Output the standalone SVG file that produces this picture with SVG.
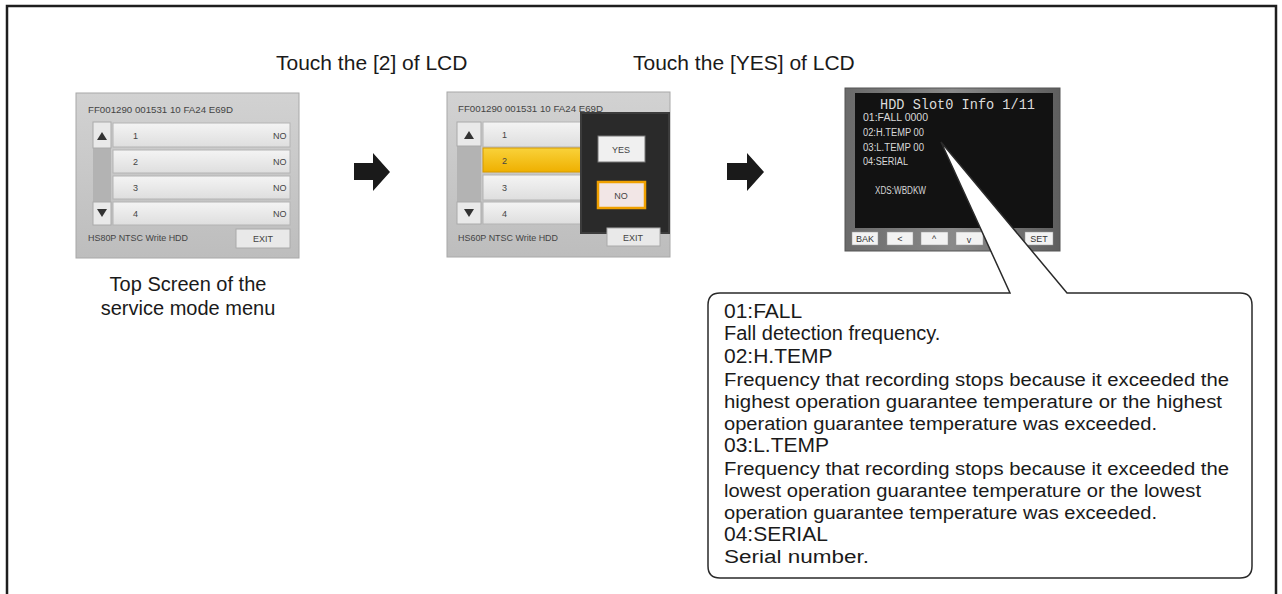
<svg xmlns="http://www.w3.org/2000/svg" width="1282" height="594" viewBox="0 0 1282 594">
<defs>
<linearGradient id="panelG" x1="0" y1="0" x2="0" y2="1"><stop offset="0" stop-color="#d2d2d2"/><stop offset="1" stop-color="#bdbdbd"/></linearGradient>
<linearGradient id="rowG" x1="0" y1="0" x2="0" y2="1"><stop offset="0" stop-color="#f4f4f4"/><stop offset="1" stop-color="#dedede"/></linearGradient>
<linearGradient id="yelG" x1="0" y1="0" x2="0" y2="1"><stop offset="0" stop-color="#f9d23a"/><stop offset="1" stop-color="#efb000"/></linearGradient>
<linearGradient id="bezG" x1="0" y1="0" x2="1" y2="0"><stop offset="0" stop-color="#6a6a6a"/><stop offset="0.5" stop-color="#8a8a8a"/><stop offset="1" stop-color="#5e5e5e"/></linearGradient>
</defs>
<style>
.lbl{font-family:"Liberation Sans",Arial,sans-serif;fill:#1a1a1a}
.top{font-size:21px}
.cap{font-size:20px}
.hd{font-size:21px}
.sm{font-family:"Liberation Sans",Arial,sans-serif;font-size:9px;fill:#444}
.row{fill:url(#rowG);stroke:#b4b4b4;stroke-width:1}
.btn{fill:#e9e9e9;stroke:#aaa;stroke-width:1}
.lcd{font-family:"Liberation Sans",Arial,sans-serif;font-size:10px;fill:#d8d8d8}
.lbtn{fill:#f2f2f2;stroke:#999;stroke-width:0.5}
.lbt{font-family:"Liberation Sans",Arial,sans-serif;font-size:9px;fill:#333;text-anchor:middle}
.arrow{fill:#1a1a1a}
</style>
<rect width="1282" height="594" fill="#ffffff"/>
<path id="frame" d="M7,594 L7,6 L1276,6 L1276,594" fill="none" stroke="#1e1e1e" stroke-width="2.5"/>

<g id="title1"><text class="lbl top" x="276" y="70">Touch the [2] of LCD</text></g>
<g id="title2"><text class="lbl top" x="633" y="70">Touch the [YES] of LCD</text></g>

<g id="screen1">
<rect x="76" y="93" width="223" height="165" fill="url(#panelG)" stroke="#a8a8a8"/>
<text class="sm" x="88" y="113" textLength="145" lengthAdjust="spacingAndGlyphs">FF001290 001531 10 FA24 E69D</text>
<rect x="93" y="122" width="18" height="103" fill="#b3b3b3"/>
<rect x="93" y="122" width="18" height="26" class="btn"/>
<polygon points="97,140 107,140 102,132" fill="#333"/>
<rect x="93" y="202" width="18" height="23" class="btn"/>
<polygon points="97,209 107,209 102,217" fill="#333"/>
<rect x="113" y="123" width="177" height="24" class="row"/>
<rect x="113" y="150" width="177" height="23" class="row"/>
<rect x="113" y="176" width="177" height="23" class="row"/>
<rect x="113" y="202" width="177" height="23" class="row"/>
<text class="sm" x="133" y="139">1</text><text class="sm" x="273" y="139">NO</text>
<text class="sm" x="133" y="165">2</text><text class="sm" x="273" y="165">NO</text>
<text class="sm" x="133" y="191">3</text><text class="sm" x="273" y="191">NO</text>
<text class="sm" x="133" y="217">4</text><text class="sm" x="273" y="217">NO</text>
<text class="sm" x="88" y="241" textLength="100" lengthAdjust="spacingAndGlyphs">HS80P NTSC Write HDD</text>
<rect x="236" y="229" width="54" height="19" class="btn"/>
<text class="sm" x="263" y="242" text-anchor="middle">EXIT</text>
</g>
<g id="caption1">
<text class="lbl cap" x="188" y="291" text-anchor="middle">Top Screen of the</text>
<text class="lbl cap" x="188" y="315" text-anchor="middle">service mode menu</text>
</g>

<g id="screen2">
<rect x="447" y="92" width="223" height="165" fill="url(#panelG)" stroke="#a8a8a8"/>
<text class="sm" x="458" y="112" textLength="145" lengthAdjust="spacingAndGlyphs">FF001290 001531 10 FA24 E69D</text>
<rect x="457" y="122" width="24" height="102" fill="#b3b3b3"/>
<rect x="457" y="122" width="24" height="24" class="btn"/>
<polygon points="464,139 474,139 469,131" fill="#333"/>
<rect x="457" y="202" width="24" height="22" class="btn"/>
<polygon points="464,209 474,209 469,217" fill="#333"/>
<rect x="483" y="122" width="180" height="25" class="row"/>
<rect x="483" y="148" width="180" height="24" fill="url(#yelG)" stroke="#d69a00"/>
<rect x="483" y="175" width="180" height="25" class="row"/>
<rect x="483" y="202" width="180" height="22" class="row"/>
<text class="sm" x="502" y="138">1</text>
<text class="sm" x="502" y="164">2</text>
<text class="sm" x="502" y="191">3</text>
<text class="sm" x="502" y="217">4</text>
<text class="sm" x="458" y="241" textLength="100" lengthAdjust="spacingAndGlyphs">HS60P NTSC Write HDD</text>
<rect x="581" y="113" width="88" height="120" fill="#2a2a2a" stroke="#3c3c3c" stroke-width="2"/>
<rect x="598" y="136" width="47" height="26" fill="#f0f0f0" stroke="#777"/>
<text class="sm" x="621" y="153" text-anchor="middle">YES</text>
<rect x="598" y="182" width="47" height="26" fill="#f2e6e6" stroke="#f0a000" stroke-width="2.5"/>
<text class="sm" x="621" y="199" text-anchor="middle">NO</text>
<rect x="607" y="228" width="53" height="18" class="btn"/>
<text class="sm" x="633" y="241" text-anchor="middle">EXIT</text>
</g>

<g id="screen3">
<rect x="845" y="88" width="215" height="163" fill="url(#bezG)" stroke="#555"/>
<rect x="855" y="93" width="198" height="135" fill="#121212"/>
<text x="880" y="109" font-family="'Liberation Mono',monospace" font-size="15" fill="#dcdcdc" textLength="155" lengthAdjust="spacingAndGlyphs">HDD Slot0 Info 1/11</text>
<text class="lcd" x="863" y="121" textLength="65" lengthAdjust="spacingAndGlyphs">01:FALL  0000</text>
<text class="lcd" x="863" y="136" textLength="61" lengthAdjust="spacingAndGlyphs">02:H.TEMP 00</text>
<text class="lcd" x="863" y="151" textLength="61" lengthAdjust="spacingAndGlyphs">03:L.TEMP 00</text>
<text class="lcd" x="863" y="165" textLength="45" lengthAdjust="spacingAndGlyphs">04:SERIAL</text>
<text class="lcd" x="875" y="194" textLength="51" lengthAdjust="spacingAndGlyphs">XDS:WBDKW</text>
<rect x="852" y="232" width="26" height="13" class="lbtn"/><text class="lbt" x="865" y="242">BAK</text>
<rect x="887" y="232" width="26" height="13" class="lbtn"/><text class="lbt" x="900" y="242">&lt;</text>
<rect x="921" y="232" width="27" height="13" class="lbtn"/><text class="lbt" x="934" y="242">^</text>
<rect x="956" y="232" width="27" height="13" class="lbtn"/><text class="lbt" x="969" y="243">v</text>
<rect x="990" y="232" width="27" height="13" class="lbtn"/>
<rect x="1025" y="232" width="28" height="13" class="lbtn"/><text class="lbt" x="1039" y="242">SET</text>
</g>

<g id="connectors">
<polygon class="arrow" points="354,163 373,163 373,153 390,172 373,191 373,180 354,180"/>
<polygon class="arrow" points="727,163 747,163 747,153 764,172 747,191 747,180 727,180"/>
</g>

<g id="callout">
<path d="M720,293 L1010,293 L941,142 L1067,293 L1240,293 Q1252,293 1252,305 L1252,566 Q1252,578 1240,578 L720,578 Q708,578 708,566 L708,305 Q708,293 720,293 Z" fill="#ffffff" stroke="#2a2a2a" stroke-width="1.5" stroke-linejoin="miter"/>
<text class="lbl hd" x="724" y="318">01:FALL</text>
<text class="lbl cap" x="724" y="340" font-size="17">Fall detection frequency.</text>
<text class="lbl hd" x="724" y="363">02:H.TEMP</text>
<text class="lbl cap" x="724" y="386" textLength="505" lengthAdjust="spacingAndGlyphs" style="font-size:18px">Frequency that recording stops because it exceeded the</text>
<text class="lbl cap" x="724" y="408" textLength="498" lengthAdjust="spacingAndGlyphs" style="font-size:18px">highest operation guarantee temperature or the highest</text>
<text class="lbl cap" x="724" y="430" textLength="433" lengthAdjust="spacingAndGlyphs" style="font-size:18px">operation guarantee temperature was exceeded.</text>
<text class="lbl hd" x="724" y="452">03:L.TEMP</text>
<text class="lbl cap" x="724" y="475" textLength="505" lengthAdjust="spacingAndGlyphs" style="font-size:18px">Frequency that recording stops because it exceeded the</text>
<text class="lbl cap" x="724" y="497" textLength="477" lengthAdjust="spacingAndGlyphs" style="font-size:18px">lowest operation guarantee temperature or the lowest</text>
<text class="lbl cap" x="724" y="519" textLength="433" lengthAdjust="spacingAndGlyphs" style="font-size:18px">operation guarantee temperature was exceeded.</text>
<text class="lbl hd" x="724" y="541">04:SERIAL</text>
<text class="lbl cap" x="724" y="563" textLength="145" lengthAdjust="spacingAndGlyphs" style="font-size:18px">Serial number.</text>
</g>
</svg>
